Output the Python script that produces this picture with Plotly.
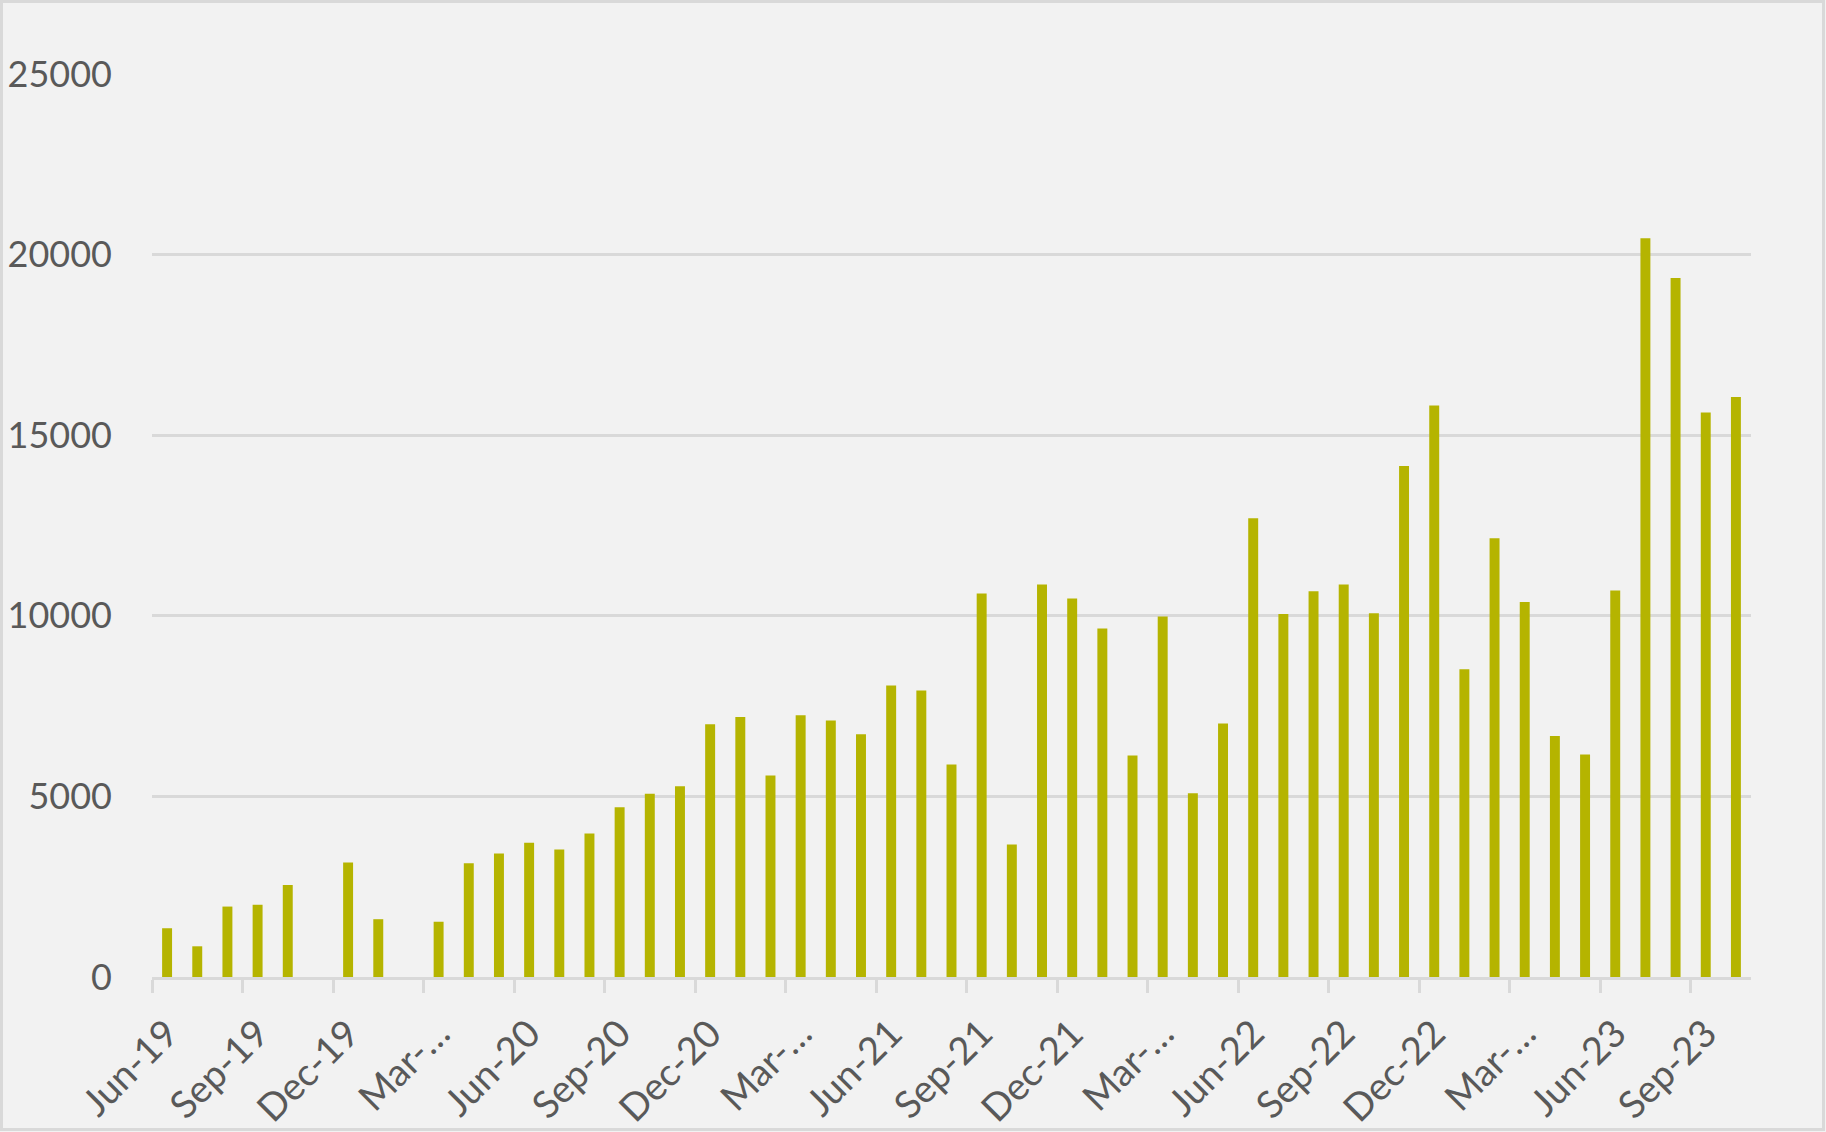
import plotly.graph_objects as go

months = ["Jun-19","Jul-19","Aug-19","Sep-19","Oct-19","Nov-19","Dec-19",
          "Jan-20","Feb-20","Mar-20","Apr-20","May-20","Jun-20","Jul-20","Aug-20","Sep-20","Oct-20","Nov-20","Dec-20",
          "Jan-21","Feb-21","Mar-21","Apr-21","May-21","Jun-21","Jul-21","Aug-21","Sep-21","Oct-21","Nov-21","Dec-21",
          "Jan-22","Feb-22","Mar-22","Apr-22","May-22","Jun-22","Jul-22","Aug-22","Sep-22","Oct-22","Nov-22","Dec-22",
          "Jan-23","Feb-23","Mar-23","Apr-23","May-23","Jun-23","Jul-23","Aug-23","Sep-23","Oct-23"]

values = [1350, 850, 1950, 2000, 2550, 0, 3170,
          1600, 0, 1530, 3150, 3420, 3720, 3530, 3970, 4700, 5070, 5280, 7000,
          7200, 5580, 7250, 7100, 6720, 8070, 7930, 5880, 10620, 3670, 10870, 10480,
          9650, 6130, 9980, 5090, 7020, 12700, 10050, 10680, 10870, 10070, 14150, 15820,
          8520, 12150, 10380, 6670, 6160, 10700, 20450, 19350, 15630, 16060]

tick_months = ["Jun-19","Sep-19","Dec-19","Mar-20","Jun-20","Sep-20","Dec-20","Mar-21","Jun-21",
               "Sep-21","Dec-21","Mar-22","Jun-22","Sep-22","Dec-22","Mar-23","Jun-23","Sep-23"]
tick_text = ["Jun-19","Sep-19","Dec-19","Mar-…","Jun-20","Sep-20","Dec-20","Mar-…","Jun-21",
             "Sep-21","Dec-21","Mar-…","Jun-22","Sep-22","Dec-22","Mar-…","Jun-23","Sep-23"]

y_ticks = [0, 5000, 10000, 15000, 20000, 25000]

W, H = 1826, 1132
ML, MR, MT, MB = 152, 75, 74, 155

idx = list(range(len(months)))
tick_idx = [months.index(m) for m in tick_months]
boundary_idx = [i - 0.5 for i in tick_idx]

fig = go.Figure(go.Bar(
    x=idx, y=values,
    customdata=months,
    hovertemplate="%{customdata}: %{y}<extra></extra>",
    marker=dict(color="#B5B400", line=dict(width=0)),
    width=0.33,
))

pw = W - ML - MR
ph = H - MT - MB

FONT = "Lato, 'Open Sans', sans-serif"

fig.update_layout(
    width=W, height=H,
    margin=dict(l=ML, r=MR, t=MT, b=MB, pad=0, autoexpand=False),
    paper_bgcolor="#F2F2F2",
    plot_bgcolor="#F2F2F2",
    showlegend=False,
    font=dict(family=FONT, size=36, color="#595959"),
    xaxis=dict(
        type="linear", automargin=False,
        tickmode="array", tickvals=tick_idx, ticktext=tick_text,
        tickangle=-45,
        ticks="",
        ticklabelstandoff=16,
        minor=dict(tickmode="array", tickvals=boundary_idx, ticks="outside",
                   ticklen=13, tickwidth=3, tickcolor="#D9D9D9", showgrid=False),
        showline=True, linecolor="#D9D9D9", linewidth=3,
        showgrid=False, zeroline=False,
        range=[-0.5, len(months) - 0.5],
        tickfont=dict(family=FONT, size=38, color="#595959"),
    ),
    yaxis=dict(
        range=[0, 25000], automargin=False,
        tickmode="array", tickvals=y_ticks, tickformat="d",
        showgrid=True, gridcolor="#D9D9D9", gridwidth=3,
        zeroline=False, showline=False, ticks="",
        ticklabelstandoff=39,
        tickfont=dict(family=FONT, size=36, color="#595959"),
    ),
    shapes=[dict(
        type="rect", xref="paper", yref="paper",
        x0=(1.5 - ML) / pw, x1=(W - 2.5 - ML) / pw,
        y0=-(MB - 2.5) / ph, y1=1 + (MT - 1.5) / ph,
        line=dict(color="#D9D9D9", width=3), fillcolor="rgba(0,0,0,0)",
        layer="below",
    )],
)

fig.write_html(
    "out.html",
    config={"displayModeBar": False},
    post_script="document.body.style.margin='0';document.body.style.overflow='hidden';",
)
